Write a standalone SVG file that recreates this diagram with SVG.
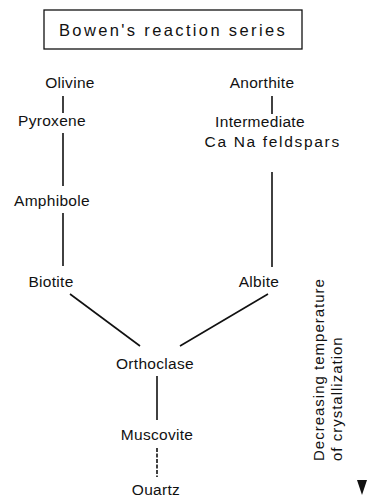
<svg xmlns="http://www.w3.org/2000/svg" width="389" height="495" viewBox="0 0 389 495">
<style>
.t{font-family:"Liberation Sans",Arial,sans-serif;font-size:15.5px;fill:#111;letter-spacing:0.3px;text-anchor:middle}
.v{font-family:"Liberation Sans",Arial,sans-serif;font-size:15px;fill:#111;letter-spacing:1px}
.c{stroke:#111;stroke-width:1.6;fill:none}
</style>
<rect width="389" height="495" fill="#fff"/>
<g id="title">
<rect x="44" y="10" width="258" height="39" fill="none" stroke="#111" stroke-width="1.3"/>
<text class="t" x="172" y="36" style="font-size:16.5px" textLength="226" lengthAdjust="spacing">Bowen's reaction series</text>
</g>
<g id="connectors">
<line class="c" x1="63" y1="96" x2="63" y2="113"/>
<line class="c" x1="63" y1="133" x2="63" y2="186"/>
<line class="c" x1="63" y1="213" x2="63" y2="266"/>
<line class="c" x1="272" y1="96" x2="272" y2="114" stroke-width="2.2"/>
<line class="c" x1="272" y1="172" x2="272" y2="267"/>
<line class="c" x1="70" y1="294" x2="140" y2="346"/>
<line class="c" x1="268" y1="294" x2="180" y2="346"/>
<line class="c" x1="157" y1="376" x2="157" y2="420"/>
<line class="c" x1="157" y1="448" x2="157" y2="477" stroke-dasharray="4 1.5"/>
</g>
<g id="olivine"><text class="t" x="70" y="88">Olivine</text></g>
<g id="pyroxene"><text class="t" x="52" y="126">Pyroxene</text></g>
<g id="amphibole"><text class="t" x="52" y="206">Amphibole</text></g>
<g id="biotite"><text class="t" x="51" y="287">Biotite</text></g>
<g id="anorthite"><text class="t" x="262" y="88">Anorthite</text></g>
<g id="intermediate"><text class="t" x="260" y="127">Intermediate</text><text class="t" x="272" y="147" textLength="135" lengthAdjust="spacing">Ca Na feldspars</text></g>
<g id="albite"><text class="t" x="259" y="287">Albite</text></g>
<g id="orthoclase"><text class="t" x="155" y="369">Orthoclase</text></g>
<g id="muscovite"><text class="t" x="157" y="440">Muscovite</text></g>
<g id="quartz"><text class="t" x="156" y="495">Quartz</text></g>
<g id="axis">
<text class="v" transform="translate(324,461) rotate(-90)">Decreasing temperature</text>
<text class="v" transform="translate(342,461) rotate(-90)">of crystallization</text>
<path d="M357,480 L367,480 L362,495 Z" fill="#111"/>
</g>
</svg>
